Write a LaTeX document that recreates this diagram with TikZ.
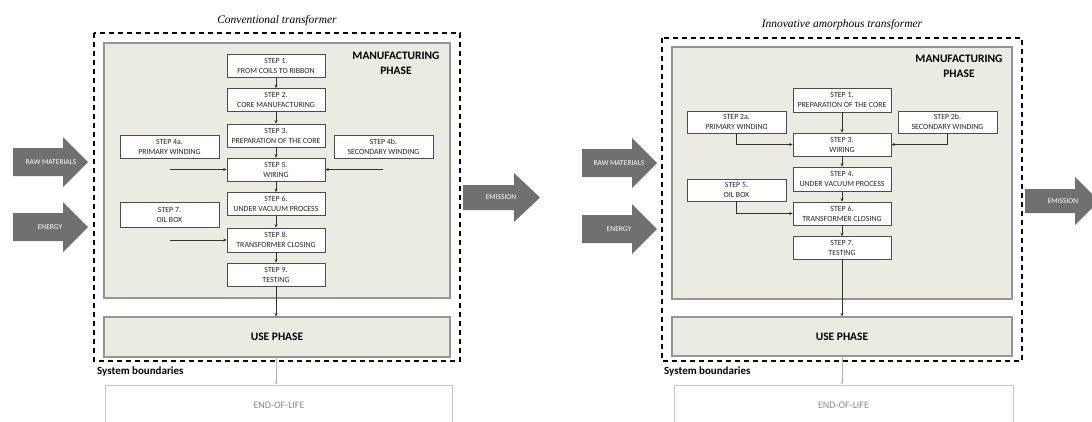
\documentclass[tikz,border=0pt]{standalone}
\usepackage{fontspec}
\setmainfont{Carlito}
\newfontfamily\titlefont{Liberation Serif}
\usetikzlibrary{arrows.meta}
\definecolor{mfg}{RGB}{236,235,226}
\definecolor{mfgline}{RGB}{150,150,150}
\definecolor{arrowfill}{RGB}{112,112,112}
\definecolor{conn}{RGB}{50,50,50}
\begin{document}
\begin{tikzpicture}[x=1bp,y=-1bp,
  stepbox/.style={draw=black!70, line width=0.6bp, fill=white, minimum width=98bp, minimum height=23bp, inner sep=0pt, align=center, text=black!85, font=\fontsize{7.9}{10}\selectfont},
  phasebox/.style={draw=mfgline, line width=1.2bp, fill=mfg},
  boundary/.style={draw=black, line width=1.3bp, dash pattern=on 5bp off 4bp},
  flow/.style={draw=conn, line width=0.6bp, -{Stealth[length=3.5bp,width=3bp]}},
  eolflow/.style={draw=black!30, line width=0.6bp, -{Stealth[length=3bp,width=2.5bp]}},
  eolbox/.style={draw=black!22, line width=1bp, fill=white, minimum width=346bp, minimum height=40bp, text=black!45, font=\fontsize{10}{12}\selectfont},
  blockarrow/.style={fill=arrowfill},
  arrowtext/.style={text=white, font=\fontsize{7.5}{9}\selectfont, inner sep=0pt},
  phasetext/.style={font=\bfseries\fontsize{11.5}{15}\selectfont, align=center, inner sep=0pt},
  titletext/.style={font=\titlefont\itshape\fontsize{11.5}{14}\selectfont, inner sep=0pt},
  boundtext/.style={font=\bfseries\fontsize{11}{13}\selectfont, inner sep=0pt, anchor=west},
]
\clip (0,0) rectangle (1092,421);
\fill[white] (0,0) rectangle (1092,421);

% ================= LEFT: conventional transformer =================
\node[titletext] (titleL) at (277,21) {Conventional transformer};
\draw[boundary] (94,33) rectangle (460,361);
\draw[phasebox] (104,43) rectangle (450,298);
\node[phasetext] (mfgL) at (396,63.5) {MANUFACTURING\\PHASE};

\node[stepbox] (s1) at (276,65.5) {STEP 1.\\FROM COILS TO RIBBON};
\node[stepbox] (s2) at (276,100) {STEP 2.\\CORE MANUFACTURING};
\node[stepbox] (s3) at (276,135.5) {STEP 3.\\PREPARATION OF THE CORE};
\node[stepbox] (s5) at (276,169.5) {STEP 5.\\WIRING};
\node[stepbox] (s6) at (276,204) {STEP 6.\\UNDER VACUUM PROCESS};
\node[stepbox, minimum height=24bp] (s8) at (276,240) {STEP 8.\\TRANSFORMER CLOSING};
\node[stepbox] (s9) at (276,274.5) {STEP 9.\\TESTING};
\node[stepbox, minimum width=99bp] (s4a) at (169.5,146.5) {STEP 4a.\\PRIMARY WINDING};
\node[stepbox, minimum width=99bp] (s4b) at (383.5,146.5) {STEP 4b.\\SECONDARY WINDING};
\node[stepbox, minimum width=99bp, minimum height=25bp] (s7) at (169.5,215) {STEP 7.\\OIL BOX};

\draw[flow] (s1) -- (s2);
\draw[flow] (s2) -- (s3);
\draw[flow] (s3) -- (s5);
\draw[flow] (s5) -- (s6);
\draw[flow] (s6) -- (s8);
\draw[flow] (s8) -- (s9);
\coordinate (c4a) at (170,169.5);
\coordinate (c4b) at (383,169.5);
\coordinate (c7) at (170,240);
\draw[flow] (c4a) -- (s5.west);
\draw[flow] (c4b) -- (s5.east);
\draw[flow] (c7) -- (s8.west);

\node[phasebox, minimum width=346bp, minimum height=40bp, phasetext] (useL) at (277,337) {USE PHASE};
\draw[flow] (s9) -- (s9 |- useL.north);
\node[boundtext] (sysL) at (97,372) {System boundaries};
\node[eolbox] (eolL) at (279,405) {END-OF-LIFE};
\draw[eolflow] (s9 |- useL.south) -- (s9 |- eolL.north);

\fill[blockarrow] (13,148) -- (63,148) -- (63,137) -- (88,162) -- (63,187) -- (63,176) -- (13,176) -- cycle;
\node[arrowtext] (rawL) at (51,162) {RAW MATERIALS};
\fill[blockarrow] (13,213) -- (63,213) -- (63,202) -- (88,227) -- (63,252) -- (63,241) -- (13,241) -- cycle;
\node[arrowtext] (enL) at (50,227) {ENERGY};
\fill[blockarrow] (463,185) -- (514,185) -- (514,173) -- (540,197.5) -- (514,222) -- (514,210) -- (463,210) -- cycle;
\node[arrowtext] (emL) at (501,197.5) {EMISSION};

% ================= RIGHT: innovative amorphous transformer =================
\node[titletext] (titleR) at (842,25) {Innovative amorphous transformer};
\draw[boundary] (662,38) rectangle (1022,361);
\draw[phasebox] (672,47) rectangle (1012,299);
\node[phasetext] (mfgR) at (959,66.5) {MANUFACTURING\\PHASE};

\node[stepbox, minimum height=24bp] (r1) at (842,100) {STEP 1.\\PREPARATION OF THE CORE};
\node[stepbox, minimum width=99bp, minimum height=22bp] (r2a) at (736.5,122) {STEP 2a.\\PRIMARY WINDING};
\node[stepbox, minimum width=99bp, minimum height=22bp] (r2b) at (947.5,122) {STEP 2b.\\SECONDARY WINDING};
\node[stepbox] (r3) at (842,144.5) {STEP 3.\\WIRING};
\node[stepbox, minimum height=24bp] (r4) at (842,179) {STEP 4.\\UNDER VACUUM PROCESS};
\node[stepbox, minimum width=99bp, minimum height=22bp] (r5) at (736.5,190) {STEP 5.\\OIL BOX};
\node[stepbox] (r6) at (842,213.5) {STEP 6.\\TRANSFORMER CLOSING};
\node[stepbox] (r7) at (842,248) {STEP 7.\\TESTING};

\draw[flow] (r1) -- (r3);
\draw[flow] (r2a.south) |- (r3.west);
\draw[flow] (r2b.south) |- (r3.east);
\draw[flow] (r3) -- (r4);
\draw[flow] (r4) -- (r6);
\draw[flow] (r5.south) |- (r6.west);
\draw[flow] (r6) -- (r7);

\node[phasebox, minimum width=340bp, minimum height=39bp, phasetext] (useR) at (842,336.5) {USE PHASE};
\draw[flow] (r7) -- (r7 |- useR.north);
\node[boundtext] (sysR) at (664,372) {System boundaries};
\node[eolbox, minimum width=339bp] (eolR) at (843.5,405) {END-OF-LIFE};
\draw[eolflow] (r7 |- useR.south) -- (r7 |- eolR.north);

\fill[blockarrow] (582,149) -- (632,149) -- (632,138) -- (657,163) -- (632,188) -- (632,177) -- (582,177) -- cycle;
\node[arrowtext] (rawR) at (619,163) {RAW MATERIALS};
\fill[blockarrow] (582,215) -- (632,215) -- (632,204) -- (657,229) -- (632,254) -- (632,243) -- (582,243) -- cycle;
\node[arrowtext] (enR) at (619,229) {ENERGY};
\fill[blockarrow] (1025,189) -- (1075,189) -- (1075,177) -- (1099,201) -- (1075,225) -- (1075,213) -- (1025,213) -- cycle;
\node[arrowtext] (emR) at (1063,201) {EMISSION};
\end{tikzpicture}
\end{document}
